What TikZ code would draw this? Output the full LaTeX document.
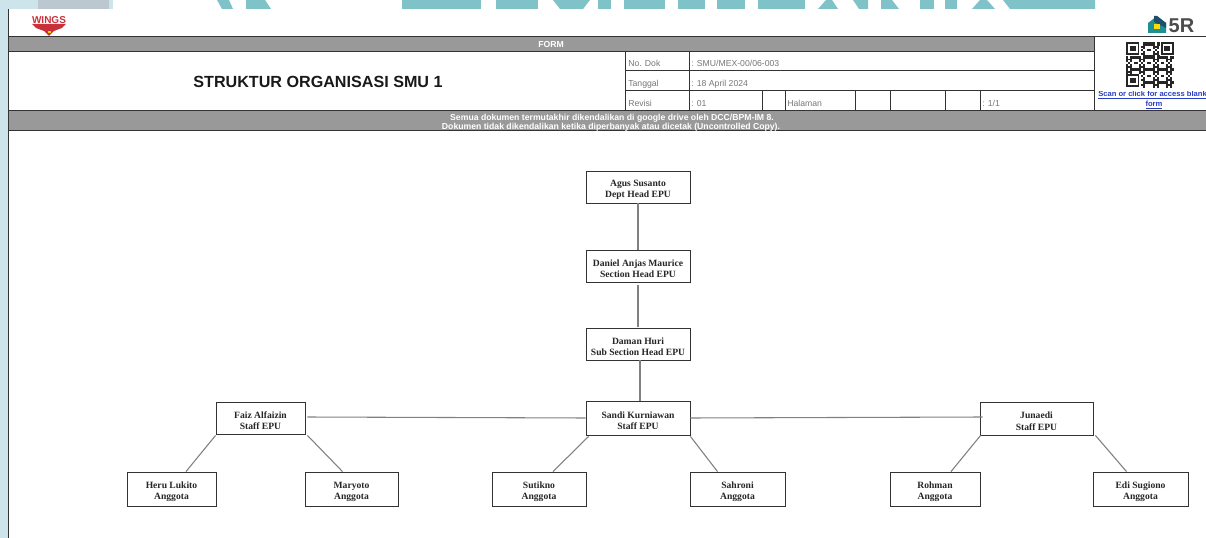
\documentclass[tikz,border=0pt]{standalone}
\usepackage{fontspec}
\setmainfont{Liberation Serif}
\setsansfont{Liberation Sans}
\usetikzlibrary{calc}
\def\px{0.75pt}
\definecolor{tealbg}{HTML}{7FC2C8}
\definecolor{palebg}{HTML}{CDE5EA}
\definecolor{greybg}{HTML}{BCC8CF}
\definecolor{bandgrey}{HTML}{999999}
\definecolor{rule}{HTML}{333333}
\definecolor{celltext}{HTML}{777777}
\definecolor{linkblue}{HTML}{2A3FC0}
\definecolor{logored}{HTML}{C8303A}
\definecolor{logoteal}{HTML}{1F8F96}
\definecolor{logonavy}{HTML}{1F4E6B}
\tikzset{
  x=0.75pt,y=-0.75pt,
  person/.style={draw=black!80,line width=0.65pt,fill=white,inner sep=0pt,align=center,
    font=\fontsize{7.2pt}{8.6pt}\selectfont\bfseries,text=black!85},
  link/.style={draw=black!50,line width=0.8pt},
  gridline/.style={draw=rule,line width=0.75pt},
  cell/.style={inner sep=0pt,anchor=west,font=\sffamily\fontsize{6.5pt}{7pt}\selectfont,text=celltext},
  band/.style={inner sep=0pt,align=center,text=white,font=\sffamily\bfseries\fontsize{6.5pt}{7pt}\selectfont},
  weblink/.style={inner sep=0pt,text=linkblue,font=\sffamily\bfseries\fontsize{5.7pt}{6pt}\selectfont},
}
\newcommand{\personbox}[6]{% name, x0, y0, x1, y1, text
  \node[person,minimum width={(#4-#2)*\px},minimum height={(#5-#3)*\px}] (#1) at ({(#2+#4)/2},{(#3+#5)/2}) {\rule{0pt}{8.8pt}#6};}
\begin{document}
\begin{tikzpicture}
\useasboundingbox (0,0) rectangle (1206,538);
\fill[white] (0,0) rectangle (1206,538);
% screen background strip
\fill[palebg] (0,0) rectangle (8,538);
\fill[palebg] (0,0) rectangle (113,9);
\fill[greybg] (38,0) rectangle (109,9);
\fill[tealbg] (217,0) -- (229,0) -- (233,9) -- (222,9) -- cycle;
\fill[tealbg] (246,0) -- (265,0) -- (271,9) -- (246,9) -- cycle;
\fill[tealbg] (402,0) rectangle (481,9);
\fill[tealbg] (496,0) rectangle (538,9);
\fill[tealbg] (553,0) -- (590,0) -- (583,9) -- (560,9) -- cycle;
\fill[tealbg] (598,0) rectangle (611,9);
\fill[tealbg] (624,0) rectangle (665,9);
\fill[tealbg] (678,0) rectangle (705,9);
\fill[tealbg] (717,0) rectangle (745,9);
\fill[tealbg] (758,0) rectangle (805,9);
\fill[tealbg] (818,9) -- (826,0) -- (832,0) -- (838,9) -- cycle;
\fill[tealbg] (853,0) -- (868,0) -- (868,9) -- (859,9) -- cycle;
\fill[tealbg] (881,0) -- (892,0) -- (899,9) -- (881,9) -- cycle;
\fill[tealbg] (920,0) rectangle (934,9);
\fill[tealbg] (945,0) rectangle (957,9);
\fill[tealbg] (972,9) -- (980,0) -- (987,0) -- (995,9) -- cycle;
\fill[tealbg] (1003,0) -- (1095,0) -- (1095,9) -- (1010,9) -- cycle;
% bands
\fill[bandgrey] (9,37) rectangle (1094,52);
\fill[bandgrey] (9,111) rectangle (1206,131);
% WINGS logo
\fill[logored] (32,24) -- (66,24) -- (62,28) -- (54,31) -- (49,36) -- (44,31) -- (36,28) -- cycle;
\fill[yellow!70!orange] (47.5,31) rectangle (50.5,33.5);
\node[inner sep=0pt,text=logored,font=\sffamily\bfseries\fontsize{7.5pt}{8pt}\selectfont] (wings) at (49,20) {WINGS};
% 5R logo
\fill[logoteal] (1148,23) -- (1157,16) -- (1166,23) -- (1166,33) -- (1148,33) -- cycle;
\fill[logonavy] (1154,16) -- (1157,16) -- (1166,23) -- (1166,28) -- (1154,22) -- cycle;
\fill[yellow!80!orange] (1154,24) rectangle (1160,29);
\node[inner sep=0pt,text=black!70,font=\sffamily\bfseries\fontsize{15pt}{16pt}\selectfont] (fiver) at (1181.5,25.5) {5R};
% grid
\draw[gridline] (8,9) -- (8,538);
\draw[gridline] (9,37) -- (1206,37);
\draw[gridline] (9,52) -- (1094,52);
\draw[gridline] (9,111) -- (1206,111);
\draw[gridline] (9,131) -- (1206,131);
\draw[gridline] (625,71) -- (1094,71);
\draw[gridline] (625,91) -- (1094,91);
\draw[gridline] (625,52) -- (625,111);
\draw[gridline] (689,52) -- (689,111);
\draw[gridline] (1094,37) -- (1094,111);
\foreach \vx in {762,785,855,890,945,980} \draw[gridline] (\vx,91) -- (\vx,111);
% title and cells
\node[inner sep=0pt,text=black!90,font=\sffamily\bfseries\fontsize{12.1pt}{13pt}\selectfont] (title) at (318,82) {STRUKTUR ORGANISASI SMU 1};
\node[band] (form) at (551,44.5) {FORM};
\node[cell] (c1) at (628,63.5) {No. Dok};
\node[cell] (c2) at (691,63.5) {: SMU/MEX-00/06-003};
\node[cell] (c3) at (628,84.5) {Tanggal};
\node[cell] (c4) at (691,84.5) {: 18 April 2024};
\node[cell] (c5) at (628,103.5) {Revisi};
\node[cell] (c6) at (691,103.5) {: 01};
\node[cell] (c7) at (787,103.5) {Halaman};
\node[cell] (c8) at (982,103.5) {: 1/1};
\begin{scope}
\clip (9,111) rectangle (1206,131);
\node[band] (note1) at (612,118) {Semua dokumen termutakhir dikendalikan di google drive oleh DCC/BPM-IM 8.};
\node[band] (note2) at (611,127.5) {Dokumen tidak dikendalikan ketika diperbanyak atau dicetak (Uncontrolled Copy).};
\end{scope}
% QR
\begin{scope}[shift={(1126,42)}]
\foreach \i in {0,...,24} \foreach \j in {0,...,24} {
  \pgfmathtruncatemacro{\q}{mod(\i*\i*3+\j*\j*5+\i*\j*7+\i+2*\j,7)}
  \ifnum\q<4 \fill[black!85] ({\i*1.92},{\j*1.84}) rectangle ++(1.92,1.84);\fi
}
\foreach \ox/\oy in {0/0,34.6/0,0/32.2} {
  \fill[white] (\ox-0.5,\oy-0.5) rectangle ++(15,14.2);
  \fill[black!85] (\ox,\oy) rectangle ++(13.4,12.9);
  \fill[white] (\ox+1.9,\oy+1.8) rectangle ++(9.6,9.3);
  \fill[black!85] (\ox+3.8,\oy+3.7) rectangle ++(5.8,5.5);
}
\end{scope}
\begin{scope}
\clip (1095,92) rectangle (1206,110);
\node[weblink,anchor=west] (scan) at (1098,95) {\underline{Scan or click for access blank}};
\node[weblink] (formlink) at (1154,105) {\underline{form}};
\end{scope}
% organisation
\personbox{agus}{586}{171}{690}{203}{Agus Susanto\\Dept Head EPU}
\personbox{daniel}{586}{250}{690}{282}{Daniel Anjas Maurice\\Section Head EPU}
\personbox{daman}{586}{328}{690}{360}{Daman Huri\\Sub Section Head EPU}
\personbox{sandi}{586}{401}{690}{435}{Sandi Kurniawan\\Staff EPU}
\personbox{faiz}{216}{402}{305}{434}{Faiz Alfaizin\\Staff EPU}
\personbox{junaedi}{980}{402}{1093}{435}{Junaedi\\Staff EPU}
\personbox{heru}{127}{472}{216}{506}{Heru Lukito\\Anggota}
\personbox{maryoto}{305}{472}{398}{506}{Maryoto\\Anggota}
\personbox{sutikno}{492}{472}{586}{506}{Sutikno\\Anggota}
\personbox{sahroni}{690}{472}{785}{506}{Sahroni\\Anggota}
\personbox{rohman}{890}{472}{980}{506}{Rohman\\Anggota}
\personbox{edi}{1093}{472}{1188}{506}{Edi Sugiono\\Anggota}
% connectors
\draw[link] (agus.south) -- (daniel.north);
\draw[link] ([yshift=-3*\px]daniel.south) -- ([yshift=1*\px]daman.north);
\draw[link] ([xshift=2*\px]daman.south) -- ([xshift=2*\px]sandi.north);
\draw[link] ([xshift=2*\px,yshift=1*\px]faiz.east) -- ([yshift=0*\px]sandi.west);
\draw[link] (sandi.east) -- ([xshift=3*\px,yshift=1.5*\px]junaedi.west);
\draw[link] ([yshift=-1*\px]faiz.south west) -- ([xshift=14.5*\px]heru.north);
\draw[link] ([xshift=2*\px,yshift=-1*\px]faiz.south east) -- ([xshift=-9*\px]maryoto.north);
\draw[link] ([xshift=3*\px,yshift=-1*\px]sandi.south west) -- ([xshift=14*\px]sutikno.north);
\draw[link] ([yshift=-1*\px]sandi.south east) -- ([xshift=-20*\px]sahroni.north);
\draw[link] ([xshift=1*\px]junaedi.south west) -- ([xshift=16*\px]rohman.north);
\draw[link] ([xshift=2*\px]junaedi.south east) -- ([xshift=-14*\px]edi.north);
\end{tikzpicture}
\end{document}
